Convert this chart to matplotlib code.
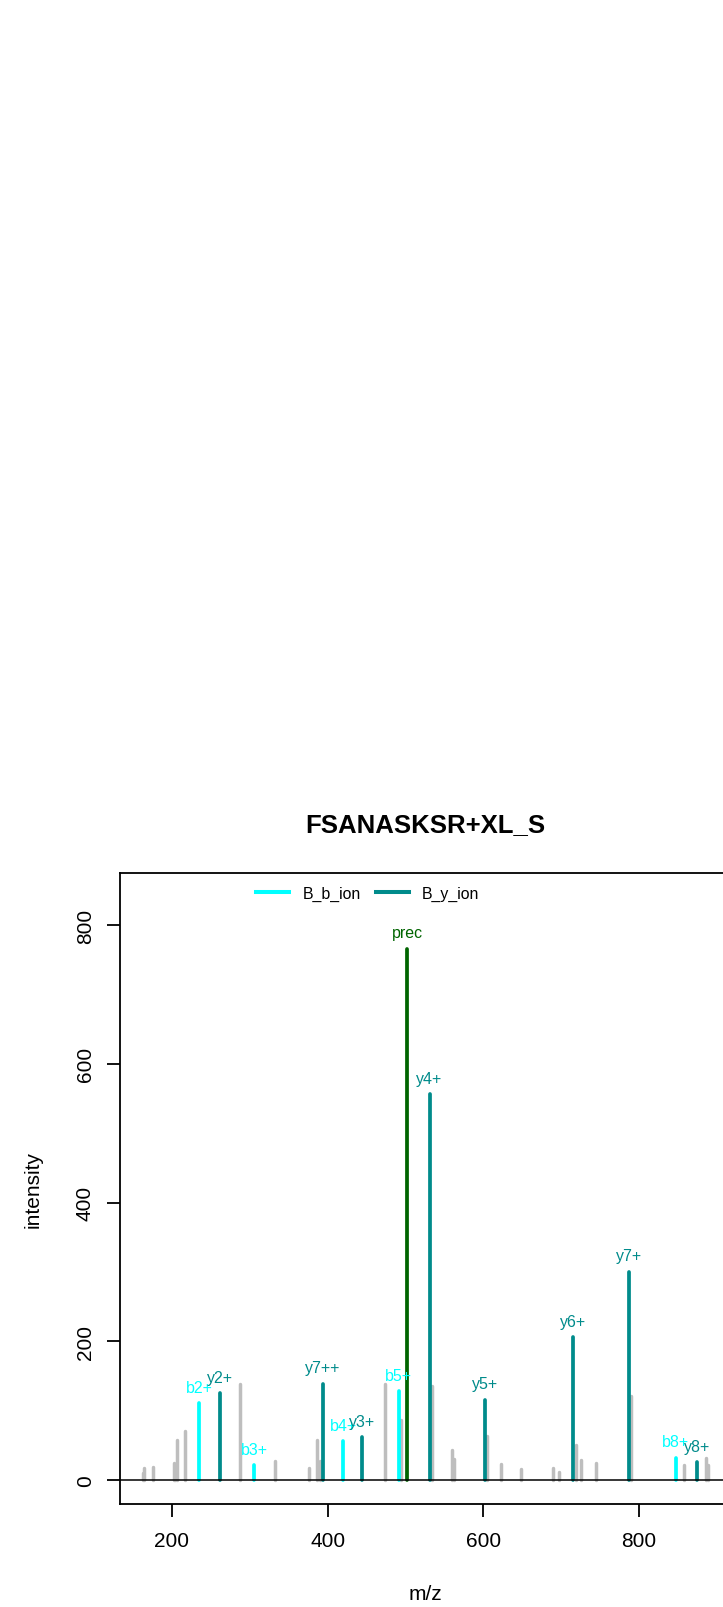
import numpy as np
import matplotlib
matplotlib.use("Agg")
import matplotlib.pyplot as plt
from matplotlib.lines import Line2D

plt.rcParams['font.family'] = ['Liberation Sans', 'DejaVu Sans']

# spectre annoté
titre = "FSANASKSR+XL_S"

ion_labels = ["b2+", "y2+", "b3+", "y7++", "b4+", "y3+", "b5+", "prec",
              "y4+", "y5+", "y6+", "y7+", "b8+", "y8+"]
ion_mz = [234.7, 261.7, 306.0, 394.2, 420.0, 444.0, 491.2, 502.0,
          531.0, 602.2, 715.7, 786.9, 847.0, 874.4]
ion_int = [110.5, 125, 21.6, 139, 56, 62, 128, 766,
           556, 116, 205.6, 300, 32, 25.5]
ion_type = ["b", "y", "b", "y", "b", "y", "b", "prec",
            "y", "y", "y", "y", "b", "y"]

# pics non annotés
bruit_mz = [162.5, 163.5, 175.5, 202.0, 203.5, 207.0, 216.7, 288.0, 333.0,
            376.2, 385.7, 390.5, 474.0, 494.5, 534.4, 560.0, 562.7, 604.3,
            622.7, 648.0, 690.0, 697.7, 718.5, 725.2, 744.5, 790.0, 858.0,
            886.4, 889.3]
bruit_int = [10, 17, 19, 25, 22, 57.6, 71, 138, 28,
             17, 57.6, 28, 138, 86, 136, 43, 30, 64,
             23.5, 15.5, 17, 11.5, 50, 29.5, 25, 121.5, 21.6,
             31.7, 21.5]

couleurs = {"b": "#00FFFF", "y": "#008B8B", "prec": "#006400"}
legende = ["B_b_ion", "B_y_ion"]

fig = plt.figure(figsize=(7.23, 16.08), dpi=100)
ax = fig.add_axes([120/723, 103/1608, 611/723, 631/1608])

ax.vlines(bruit_mz, 0, bruit_int, colors="#BEBEBE", lw=2.5, capstyle="round", zorder=2)

for lab, mz, it, t in zip(ion_labels, ion_mz, ion_int, ion_type):
    c = couleurs[t]
    ax.vlines(mz, 0, it, colors=c, lw=2.7, capstyle="round", zorder=3)
    ax.annotate(lab, (mz, it), xytext=(0, 11.5), textcoords="offset points",
                ha="center", va="center", color=c, fontsize=11.5, zorder=4)

ax.axhline(0, color="black", lw=1.1, zorder=5)

ax.set_xlim(133.2, 918.3)
ax.set_ylim(-34.6, 875)
ax.set_xticks([200, 400, 600, 800])
ax.set_yticks([0, 200, 400, 600, 800])
ax.tick_params(axis="both", length=9.1, width=1.3, labelsize=15, direction="out")
ax.tick_params(axis="x", pad=10)
ax.tick_params(axis="y", pad=9)
for lab in ax.get_yticklabels():
    lab.set_rotation(90)
    lab.set_va("center")
for sp in ax.spines.values():
    sp.set_linewidth(1.3)

ax.set_xlabel("m/z", fontsize=15)
ax.xaxis.set_label_coords(0.5, -(1595 - 1505) / 631)
ax.xaxis.label.set_va("center")
ax.set_ylabel("intensity", fontsize=15)
ax.yaxis.set_label_coords(-(120 - 33) / 611, 0.5)
ax.yaxis.label.set_va("center")

ax.set_title(titre, fontsize=18.5, fontweight="bold", pad=30.5)

poignees = [Line2D([], [], color=couleurs["b"], lw=2.9),
            Line2D([], [], color=couleurs["y"], lw=2.9)]
fig.legend(poignees, legende, loc="center left",
           bbox_to_anchor=(256/723, 1 - 894/1608), ncol=2, frameon=False,
           fontsize=11.4, handlelength=2.08, handletextpad=0.85,
           columnspacing=0.95, borderpad=0, borderaxespad=0)

fig.savefig("out.png", dpi=100)
